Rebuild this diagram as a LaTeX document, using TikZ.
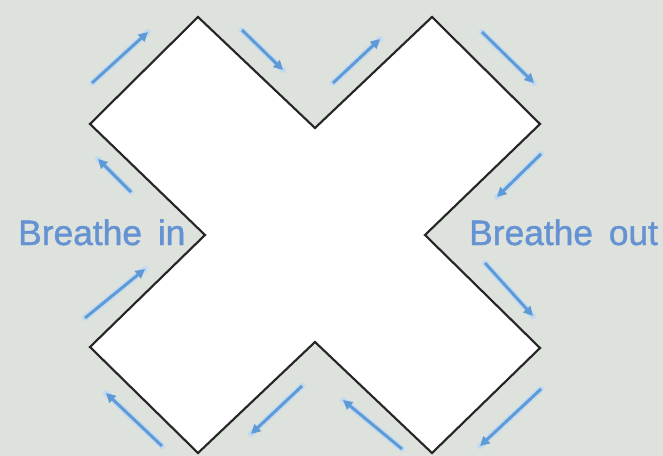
\documentclass[tikz,border=0pt]{standalone}
\usepackage{fontspec}
\setmainfont{Liberation Sans}
\newfontfamily\boldishfont[FakeBold=1.2]{Liberation Sans}
\usetikzlibrary{arrows.meta}
\definecolor{bg}{HTML}{DEE2DD}
\definecolor{arrowblue}{HTML}{5E9AD6}
\definecolor{halo}{HTML}{C2DAF0}
\definecolor{textblue}{HTML}{6592D2}
\tikzset{
  flow/.style={arrowblue, line width=2.2pt, -{Triangle[length=7pt,width=7pt]}},
  flowhalo/.style={halo, line width=4.5pt, line cap=round},
  breathlabel/.style={textblue, font=\boldishfont\fontsize{26.5}{30}\selectfont, inner sep=0pt, anchor=base west},
  crossshape/.style={draw=black!85, fill=white, line width=1.6pt, line join=miter}
}
\begin{document}
\begin{tikzpicture}[x=0.75pt,y=-0.75pt]
\fill[bg] (0,0) rectangle (663,456);
\useasboundingbox (0,0) rectangle (663,456);
% X shape
\draw[crossshape] (198,17) -- (315,128) -- (432,17) -- (540,124) -- (425,235) -- (540,348)
  -- (432,453) -- (315,342) -- (198,453) -- (90,347) -- (205,235) -- (90,124) -- cycle;
% arrows
\foreach \ax/\ay/\bx/\by [count=\i] in {
  92/83/148/32, 242/30/283/70, 333/83/380/39, 482/32/534/83,
  541/154/497/197, 131/192/98/159, 85/318/145/269, 162/446/106/393,
  302/386/251/434, 402/449/343/400, 541/389/480/446, 485/263/533/316}{
  \coordinate (t\i) at (\ax,\ay);
  \coordinate (h\i) at (\bx,\by);
  \draw[flowhalo] (t\i) -- (h\i);
  \draw[flow] (t\i) -- (h\i);
}
\node[breathlabel] (in) at (18,245) {Breathe\hspace{0.45em}in};
\node[breathlabel] (out) at (469,245) {Breathe\hspace{0.45em}out};
\end{tikzpicture}
\end{document}
